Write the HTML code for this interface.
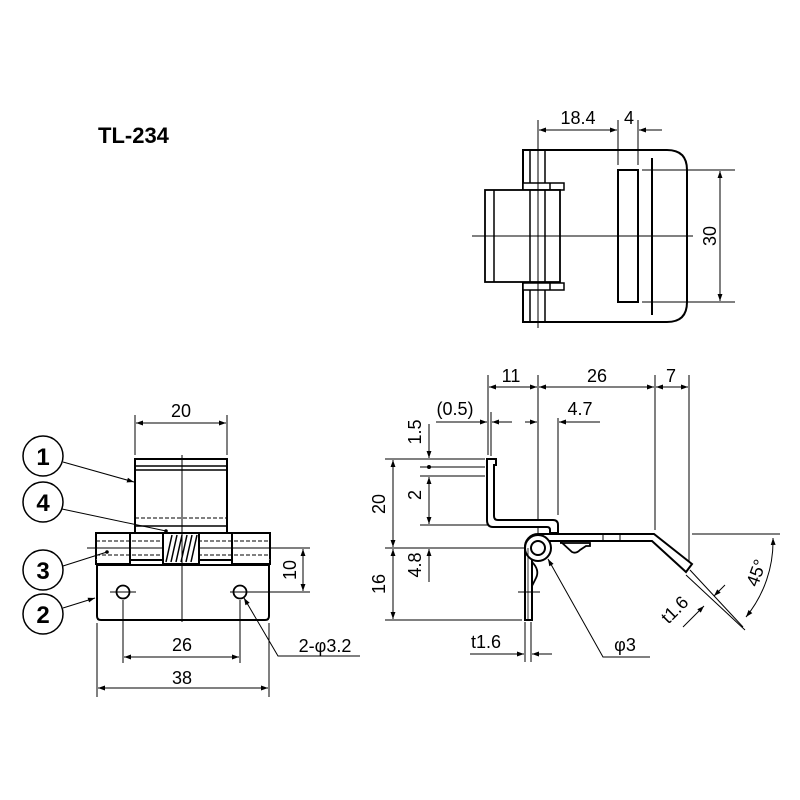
<!DOCTYPE html>
<html><head><meta charset="utf-8"><style>
html,body{margin:0;padding:0;background:#fff;}
svg{display:block;}
text{font-family:"Liberation Sans",sans-serif;fill:#000;}
</style></head><body>
<svg width="800" height="800" viewBox="0 0 800 800" xmlns="http://www.w3.org/2000/svg">
<defs>
<marker id="a" viewBox="0 0 10 10" refX="10" refY="5" markerWidth="12" markerHeight="7" markerUnits="userSpaceOnUse" orient="auto-start-reverse"><path d="M0,1.5 L10,5 L0,8.5 z" fill="#000"/></marker>
</defs>
<rect width="800" height="800" fill="#fff"/>
<text x="98" y="143" font-size="22" font-weight="bold">TL-234</text>

<!-- TOP VIEW -->
<g stroke="#000" fill="none">
<path d="M523,150 H667 Q687,150 687,170 V302 Q687,322 667,322 H523 Z" stroke-width="2"/>
<line x1="530" y1="150" x2="530" y2="322" stroke-width="1.5"/>
<line x1="545" y1="150" x2="545" y2="322" stroke-width="1.5"/>
<line x1="538" y1="120" x2="538" y2="328" stroke-width="1"/>
<rect x="523" y="183" width="41" height="7" stroke-width="1.5" fill="#fff"/>
<line x1="550" y1="183" x2="550" y2="190" stroke-width="1.5"/>
<rect x="523" y="283" width="41" height="7" stroke-width="1.5" fill="#fff"/>
<line x1="550" y1="283" x2="550" y2="290" stroke-width="1.5"/>
<rect x="485" y="190" width="75" height="92" stroke-width="1.8" fill="#fff"/>
<line x1="494" y1="190" x2="494" y2="282" stroke-width="1.5"/>
<line x1="530" y1="190" x2="530" y2="282" stroke-width="1.5"/>
<line x1="545" y1="190" x2="545" y2="282" stroke-width="1.5"/>
<line x1="538" y1="183" x2="538" y2="290" stroke-width="1"/>
<line x1="472" y1="236" x2="693" y2="236" stroke-width="1"/>
<rect x="618" y="170" width="20" height="132" stroke-width="2"/>
<line x1="652" y1="158" x2="652" y2="315" stroke-width="2"/>
<line x1="642" y1="170" x2="735" y2="170" stroke-width="1"/>
<line x1="642" y1="302" x2="735" y2="302" stroke-width="1"/>
<line x1="720" y1="171" x2="720" y2="301" stroke-width="1" marker-start="url(#a)" marker-end="url(#a)"/>
<line x1="618" y1="120" x2="618" y2="165" stroke-width="1"/>
<line x1="638" y1="120" x2="638" y2="165" stroke-width="1"/>
<line x1="539" y1="130" x2="617" y2="130" stroke-width="1" marker-start="url(#a)" marker-end="url(#a)"/>
<line x1="662" y1="130" x2="639" y2="130" stroke-width="1" marker-end="url(#a)"/>
</g>
<text x="578" y="124" font-size="18" text-anchor="middle">18.4</text>
<text x="629" y="124" font-size="18" text-anchor="middle">4</text>
<text transform="translate(716,236) rotate(-90)" font-size="18" text-anchor="middle">30</text>

<!-- FRONT VIEW -->
<g stroke="#000" fill="none">
<rect x="135" y="459" width="92" height="74" stroke-width="2"/>
<line x1="135" y1="466" x2="227" y2="466" stroke-width="1.5"/>
<line x1="135" y1="470" x2="227" y2="470" stroke-width="1.5"/>
<line x1="135" y1="518" x2="227" y2="518" stroke-width="1" stroke-dasharray="4,2"/>
<line x1="135" y1="526" x2="227" y2="526" stroke-width="1.5"/>
<rect x="96" y="533" width="174" height="27" stroke-width="2" fill="#fff"/>
<path d="M96,560 V564 H130 V533 M232,533 V564 H270 V560" stroke-width="2" fill="#fff"/>
<line x1="96" y1="541" x2="270" y2="541" stroke-width="1" stroke-dasharray="4,2"/>
<line x1="96" y1="555" x2="270" y2="555" stroke-width="1" stroke-dasharray="4,2"/>
<line x1="87" y1="548" x2="310" y2="548" stroke-width="1"/>
<rect x="163" y="533" width="36" height="31" stroke-width="2" fill="#fff"/>
<path d="M166,562 L172,535 M171,562 L177,535 M176,562 L182,535 M181,562 L187,535 M186,562 L192,535 M191,562 L197,535" stroke-width="1.5"/>
<path d="M97,565 H269 V616 Q269,620 265,620 H101 Q97,620 97,616 Z" stroke-width="2"/>
<circle cx="123" cy="592" r="6.5" stroke-width="1.8"/>
<circle cx="240" cy="592" r="6.5" stroke-width="1.8"/>
<line x1="110" y1="592" x2="136" y2="592" stroke-width="1"/>
<line x1="230" y1="592" x2="310" y2="592" stroke-width="1"/>
<line x1="182" y1="455" x2="182" y2="622" stroke-width="1"/>
<line x1="303" y1="549" x2="303" y2="591" stroke-width="1" marker-start="url(#a)" marker-end="url(#a)"/>
<line x1="135" y1="415" x2="135" y2="455" stroke-width="1"/>
<line x1="227" y1="415" x2="227" y2="455" stroke-width="1"/>
<line x1="136" y1="423" x2="226" y2="423" stroke-width="1" marker-start="url(#a)" marker-end="url(#a)"/>
<line x1="123" y1="600" x2="123" y2="663" stroke-width="1"/>
<line x1="240" y1="600" x2="240" y2="663" stroke-width="1"/>
<line x1="124" y1="657" x2="239" y2="657" stroke-width="1" marker-start="url(#a)" marker-end="url(#a)"/>
<line x1="97" y1="623" x2="97" y2="697" stroke-width="1"/>
<line x1="269" y1="623" x2="269" y2="697" stroke-width="1"/>
<line x1="98" y1="688" x2="268" y2="688" stroke-width="1" marker-start="url(#a)" marker-end="url(#a)"/>
<polyline points="360,656 278,656 244,598" stroke-width="1" marker-end="url(#a)"/>
<circle cx="43" cy="456" r="20" stroke-width="1.5"/>
<circle cx="43" cy="502" r="20" stroke-width="1.5"/>
<circle cx="43" cy="570" r="20" stroke-width="1.5"/>
<circle cx="43" cy="614" r="20" stroke-width="1.5"/>
<line x1="63" y1="462" x2="134" y2="482" stroke-width="1" marker-end="url(#a)"/>
<line x1="62" y1="509" x2="166" y2="531" stroke-width="1"/>
<line x1="63" y1="566" x2="107" y2="552" stroke-width="1"/>
<line x1="63" y1="608" x2="95" y2="598" stroke-width="1" marker-end="url(#a)"/>
</g>
<circle cx="107" cy="552" r="1.8" fill="#000"/>
<circle cx="166" cy="531" r="1.8" fill="#000"/>
<g font-size="24" font-weight="bold" text-anchor="middle">
<text x="43" y="465">1</text><text x="43" y="511">4</text><text x="43" y="579">3</text><text x="43" y="623">2</text>
</g>
<g font-size="18" text-anchor="middle">
<text x="181" y="417">20</text>
<text x="182" y="651">26</text>
<text x="182" y="684">38</text>
<text x="325" y="652">2-φ3.2</text>
<text transform="translate(296,570) rotate(-90)">10</text>
</g>

<!-- SIDE VIEW -->
<g stroke="#000" fill="none">
<line x1="488" y1="375" x2="488" y2="455" stroke-width="1"/>
<line x1="538" y1="375" x2="538" y2="545" stroke-width="1"/>
<line x1="655" y1="375" x2="655" y2="530" stroke-width="1"/>
<line x1="689" y1="375" x2="689" y2="565" stroke-width="1"/>
<line x1="489" y1="387" x2="537" y2="387" stroke-width="1" marker-start="url(#a)" marker-end="url(#a)"/>
<line x1="539" y1="387" x2="654" y2="387" stroke-width="1" marker-start="url(#a)" marker-end="url(#a)"/>
<line x1="656" y1="387" x2="688" y2="387" stroke-width="1" marker-start="url(#a)" marker-end="url(#a)"/>
<line x1="491" y1="412" x2="491" y2="456" stroke-width="1"/>
<line x1="558" y1="418" x2="558" y2="515" stroke-width="1"/>
<line x1="436" y1="422" x2="487" y2="422" stroke-width="1" marker-end="url(#a)"/>
<line x1="512" y1="422" x2="492" y2="422" stroke-width="1" marker-end="url(#a)"/>
<line x1="525" y1="422" x2="537" y2="422" stroke-width="1" marker-end="url(#a)"/>
<line x1="600" y1="422" x2="559" y2="422" stroke-width="1" marker-end="url(#a)"/>
<line x1="385" y1="459" x2="485" y2="459" stroke-width="1"/>
<line x1="420" y1="467" x2="485" y2="467" stroke-width="1"/>
<line x1="420" y1="476" x2="485" y2="476" stroke-width="1"/>
<line x1="420" y1="525" x2="488" y2="525" stroke-width="1"/>
<line x1="385" y1="548" x2="528" y2="548" stroke-width="1"/>
<line x1="385" y1="620" x2="522" y2="620" stroke-width="1"/>
<line x1="393" y1="460" x2="393" y2="547" stroke-width="1" marker-start="url(#a)" marker-end="url(#a)"/>
<line x1="393" y1="549" x2="393" y2="619" stroke-width="1" marker-start="url(#a)" marker-end="url(#a)"/>
<line x1="429" y1="424" x2="429" y2="458" stroke-width="1" marker-end="url(#a)"/>
<line x1="429" y1="477" x2="429" y2="524" stroke-width="1" marker-start="url(#a)" marker-end="url(#a)"/>
<line x1="429" y1="582" x2="429" y2="549" stroke-width="1" marker-end="url(#a)"/>
<path d="M487,459 H496 V465 H494 V516 Q494,520 498,520 H553 Q558,520 558,525 V533 H550 V530 Q550,527 547,527 H493 Q487,527 487,520 Z" stroke-width="2" fill="#fff"/>
<path d="M538,534 H654 L692,564 L686,572 L652,541 H538" stroke-width="2" fill="#fff"/>
<line x1="603" y1="534" x2="603" y2="541" stroke-width="1"/>
<line x1="620" y1="534" x2="620" y2="541" stroke-width="1"/>
<path d="M560,541 L572,552 Q576,554 580,550 L586,546 H590 V543 H560" stroke-width="1.8"/>
<path d="M538,534 A13,13 0 0 0 525,548 V620 H532 V560" stroke-width="2" fill="#fff"/>
<circle cx="538" cy="548" r="13" stroke-width="2" fill="#fff"/>
<circle cx="538" cy="548" r="7" stroke-width="2"/>
<path d="M532,562 Q540,570 536,578 L532,586" stroke-width="1.8"/>
<line x1="518" y1="592" x2="540" y2="592" stroke-width="1"/>
<line x1="528" y1="548" x2="528" y2="620" stroke-width="0.8"/>
<line x1="525" y1="622" x2="525" y2="662" stroke-width="1"/>
<line x1="531" y1="622" x2="531" y2="662" stroke-width="1"/>
<line x1="470" y1="654" x2="524" y2="654" stroke-width="1" marker-end="url(#a)"/>
<line x1="552" y1="654" x2="532" y2="654" stroke-width="1" marker-end="url(#a)"/>
<polyline points="650,657 603,657 548,559" stroke-width="1" marker-end="url(#a)"/>
<line x1="692" y1="534" x2="780" y2="534" stroke-width="1"/>
<line x1="690" y1="570" x2="743" y2="627" stroke-width="1"/>
<line x1="686" y1="575" x2="745" y2="630" stroke-width="1"/>
<path d="M773,538 A120,120 0 0 1 746,617" stroke-width="1" marker-start="url(#a)" marker-end="url(#a)"/>
<line x1="725" y1="585" x2="714" y2="596" stroke-width="1" marker-end="url(#a)"/>
<line x1="683" y1="627" x2="704" y2="606" stroke-width="1" marker-end="url(#a)"/>
</g>
<circle cx="429" cy="467" r="2" fill="#000"/>
<g font-size="18" text-anchor="middle">
<text x="511" y="382">11</text>
<text x="597" y="382">26</text>
<text x="671" y="382">7</text>
<text x="455" y="415">(0.5)</text>
<text x="580" y="415">4.7</text>
<text x="486" y="648">t1.6</text>
<text x="625" y="651">φ3</text>
<text transform="translate(421,432) rotate(-90)">1.5</text>
<text transform="translate(421,495) rotate(-90)">2</text>
<text transform="translate(421,565) rotate(-90)">4.8</text>
<text transform="translate(385,504) rotate(-90)">20</text>
<text transform="translate(385,584) rotate(-90)">16</text>
<text transform="translate(762,575) rotate(-70)">45°</text>
<text transform="translate(679,614) rotate(-45)">t1.6</text>
</g>
</svg>
</body></html>
